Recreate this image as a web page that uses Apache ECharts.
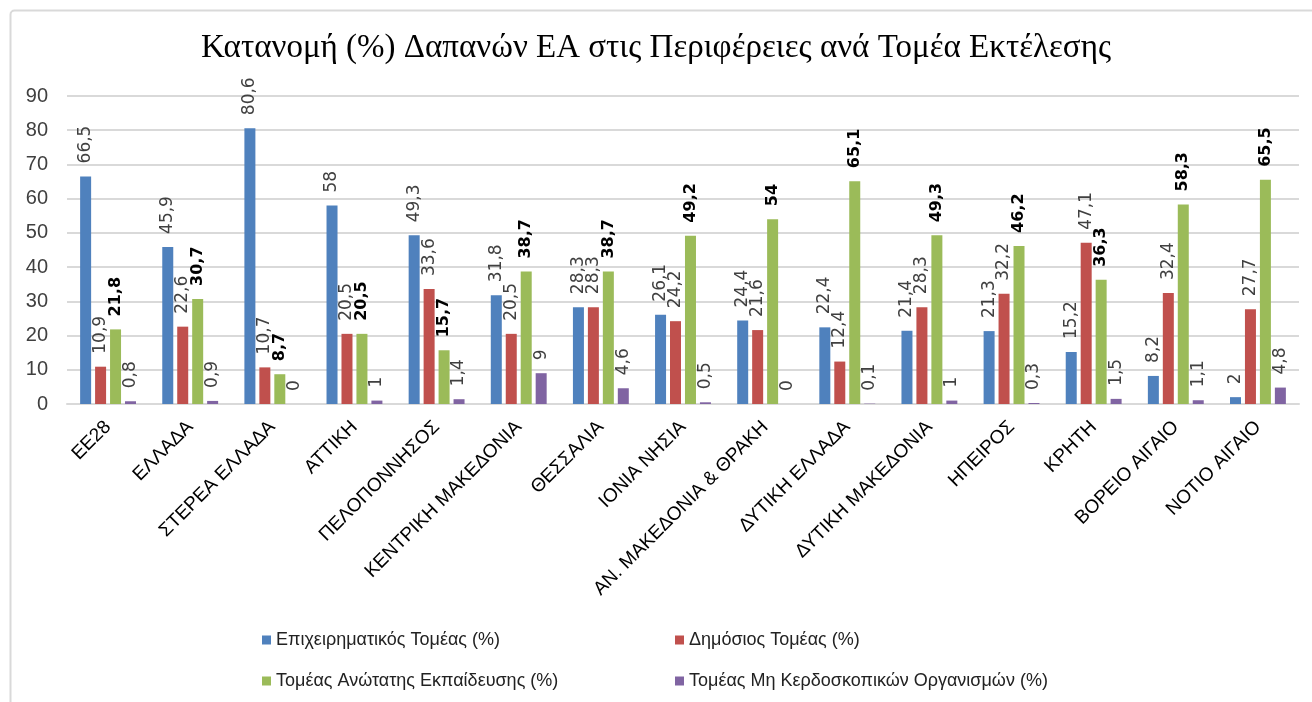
<!DOCTYPE html>
<html>
<head>
<meta charset="utf-8">
<script src="https://cdn.jsdelivr.net/npm/echarts@6/dist/echarts.min.js"></script>
<style>
  html, body { margin: 0; padding: 0; background: #fff; }
  #chart { width: 1312px; height: 702px; }
</style>
</head>
<body>
<div id="chart"></div>
<script>
// περιφέρειες
var regions = ['ΕΕ28', 'ΕΛΛΑΔΑ', 'ΣΤΕΡΕΑ ΕΛΛΑΔΑ', 'ΑΤΤΙΚΗ', 'ΠΕΛΟΠΟΝΝΗΣΟΣ', 'ΚΕΝΤΡΙΚΗ ΜΑΚΕΔΟΝΙΑ',
  'ΘΕΣΣΑΛΙΑ', 'ΙΟΝΙΑ ΝΗΣΙΑ', 'ΑΝ. ΜΑΚΕΔΟΝΙΑ & ΘΡΑΚΗ', 'ΔΥΤΙΚΗ ΕΛΛΑΔΑ', 'ΔΥΤΙΚΗ ΜΑΚΕΔΟΝΙΑ',
  'ΗΠΕΙΡΟΣ', 'ΚΡΗΤΗ', 'ΒΟΡΕΙΟ ΑΙΓΑΙΟ', 'ΝΟΤΙΟ ΑΙΓΑΙΟ'];

var seriesNames = ['Επιχειρηματικός Τομέας (%)', 'Δημόσιος Τομέας (%)',
  'Τομέας Ανώτατης Εκπαίδευσης (%)', 'Τομέας Μη Κερδοσκοπικών Οργανισμών (%)'];

var business = [66.5, 45.9, 80.6, 58, 49.3, 31.8, 28.3, 26.1, 24.4, 22.4, 21.4, 21.3, 15.2, 8.2, 2];
var government = [10.9, 22.6, 10.7, 20.5, 33.6, 20.5, 28.3, 24.2, 21.6, 12.4, 28.3, 32.2, 47.1, 32.4, 27.7];
var higherEdu = [21.8, 30.7, 8.7, 20.5, 15.7, 38.7, 38.7, 49.2, 54, 65.1, 49.3, 46.2, 36.3, 58.3, 65.5];
var nonProfit = [0.8, 0.9, 0, 1, 1.4, 9, 4.6, 0.5, 0, 0.1, 1, 0.3, 1.5, 1.1, 4.8];

var yTicks = [0, 10, 20, 30, 40, 50, 60, 70, 80, 90];

var colors = ['#4f81bd', '#c0504d', '#9bbb59', '#8064a2'];

var myChart = echarts.init(document.getElementById('chart'));

function commaFmt(p) {
  return String(p.value).replace('.', ',');
}

function makeSeries(name, data, color, bold) {
  return {
    name: name,
    type: 'bar',
    data: data,
    barWidth: 11,
    barGap: '36%',
    barCategoryGap: '32%',
    itemStyle: { color: color },
    label: {
      show: true,
      position: 'top',
      rotate: 90,
      align: 'left',
      verticalAlign: 'middle',
      distance: 13,
      formatter: commaFmt,
      fontFamily: 'DejaVu Sans',
      fontSize: bold ? 16 : 17,
      fontWeight: bold ? 'bold' : 'normal',
      color: bold ? '#000' : '#404040'
    }
  };
}

var legendText = { fontFamily: 'Liberation Sans', fontSize: 18, color: '#222' };

var option = {
  backgroundColor: '#fff',
  animation: false,
  color: colors,
  title: {
    text: 'Κατανομή (%) Δαπανών ΕΑ στις Περιφέρειες ανά Τομέα Εκτέλεσης',
    left: 'center',
    top: 27,
    textStyle: {
      fontFamily: 'Liberation Serif',
      fontSize: 33,
      fontWeight: 'normal',
      color: '#000'
    }
  },
  graphic: [{
    type: 'rect',
    shape: { x: 10.5, y: 10.5, width: 1320, height: 720, r: 4 },
    style: { fill: null, stroke: '#d9d9d9', lineWidth: 2 },
    silent: true
  }],
  legend: [{
    data: [seriesNames[0], seriesNames[2]],
    orient: 'vertical',
    left: 257,
    top: 626,
    itemGap: 23,
    itemWidth: 9,
    itemHeight: 9,
    icon: 'rect',
    textStyle: legendText
  }, {
    data: [seriesNames[1], seriesNames[3]],
    orient: 'vertical',
    left: 670,
    top: 626,
    itemGap: 23,
    itemWidth: 9,
    itemHeight: 9,
    icon: 'rect',
    textStyle: legendText
  }],
  grid: {
    left: 67,
    right: 13,
    top: 96,
    bottom: 298,
    containLabel: false
  },
  xAxis: {
    type: 'category',
    data: regions,
    axisTick: { show: false },
    axisLine: { lineStyle: { color: '#d9d9d9', width: 2 } },
    axisLabel: {
      interval: 0,
      rotate: 45,
      margin: 20,
      fontFamily: 'Liberation Sans',
      fontSize: 19,
      color: '#000'
    }
  },
  yAxis: {
    type: 'value',
    min: yTicks[0],
    max: yTicks[yTicks.length - 1],
    interval: 10,
    axisLine: { show: false },
    axisTick: { show: false },
    splitLine: { lineStyle: { color: '#d9d9d9', width: 2 } },
    axisLabel: {
      margin: 19,
      fontFamily: 'Liberation Sans',
      fontSize: 20,
      color: '#404040'
    }
  },
  series: [
    makeSeries(seriesNames[0], business, colors[0], false),
    makeSeries(seriesNames[1], government, colors[1], false),
    makeSeries(seriesNames[2], higherEdu, colors[2], true),
    makeSeries(seriesNames[3], nonProfit, colors[3], false)
  ]
};

myChart.setOption(option);
</script>
</body>
</html>
